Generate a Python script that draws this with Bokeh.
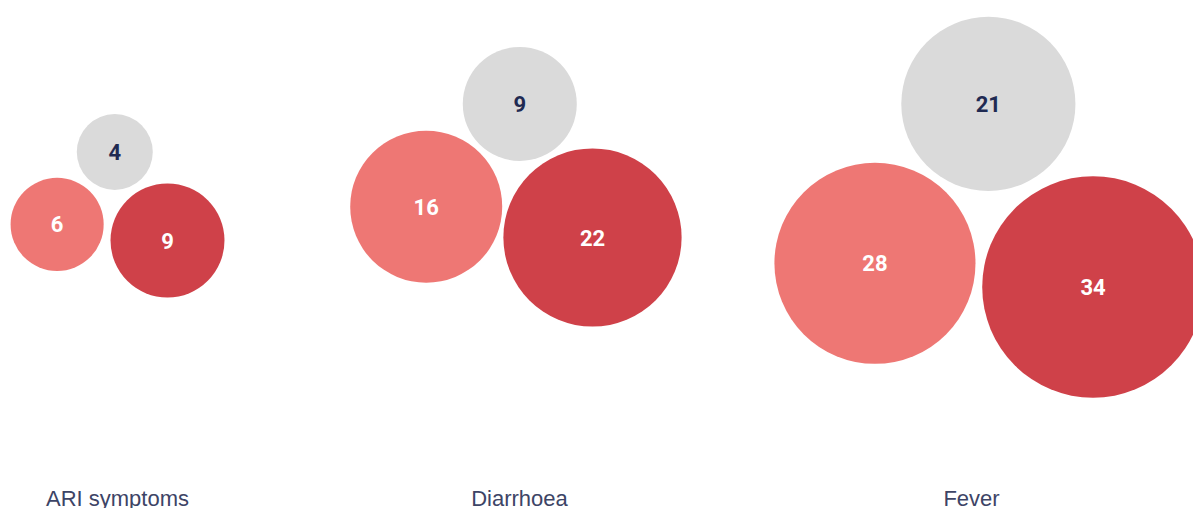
import math
from bokeh.plotting import figure
from bokeh.models import Range1d, ColumnDataSource
from bokeh.core.properties import value
from bokeh.embed import file_html
from bokeh.resources import INLINE

# ---------------- data ----------------
categories = ["ARI symptoms", "Diarrhoea", "Fever"]
gray_values = [4, 9, 21]     # top bubble (gray)
light_values = [6, 16, 28]   # left bubble (light red)
dark_values = [9, 22, 34]    # right bubble (dark red)

# ---------------- layout / style ----------------
W, H = 1193, 508
SIZE_K = 19.0          # radius (px) = SIZE_K * sqrt(value)  (area proportional)
GAP_LD = [8, 4, 8]     # gap light<->dark
GAP_LG = [8, 6, 8]     # gap light<->gray
GAP_DG = [8, 6, 13]    # gap dark<->gray
DARK_ANCHOR = [(167, 240), (592, 237), (1092.5, 286.5)]
TILT_DEG = [8.3, 10.5, 6.2]
LABEL_X = [117, 519, 971]
LABEL_Y = 498

COL_GRAY = "#dadada"
COL_LIGHT = "#ee7774"
COL_DARK = "#cf4149"
NUM_DARK = "#1f2a52"
CAT_COL = "#3d4466"


def rad(v):
    return SIZE_K * math.sqrt(v)


xs, ys, rs, cols, txt, tcol = [], [], [], [], [], []
for i in range(len(categories)):
    rg, rl, rd = rad(gray_values[i]), rad(light_values[i]), rad(dark_values[i])
    dx, dy = DARK_ANCHOR[i]
    t = math.radians(TILT_DEG[i])
    ux, uy = math.cos(t), math.sin(t)
    d = rl + rd + GAP_LD[i]
    lx, ly = dx - d * ux, dy - d * uy
    dL = rl + rg + GAP_LG[i]
    dD = rd + rg + GAP_DG[i]
    a = (dL ** 2 - dD ** 2 + d ** 2) / (2 * d)
    h = math.sqrt(max(dL ** 2 - a ** 2, 0))
    nx, ny = uy, -ux
    gx, gy = lx + a * ux + h * nx, ly + a * uy + h * ny
    for (cx, cy, r, c, v, tc) in [
        (gx, gy, rg, COL_GRAY, gray_values[i], NUM_DARK),
        (lx, ly, rl, COL_LIGHT, light_values[i], "#ffffff"),
        (dx, dy, rd, COL_DARK, dark_values[i], "#ffffff"),
    ]:
        xs.append(cx); ys.append(cy); rs.append(r); cols.append(c)
        txt.append(str(v)); tcol.append(tc)

src = ColumnDataSource(dict(x=xs, y=ys, r=rs, c=cols, t=txt, tc=tcol))

p = figure(width=W, height=H, output_backend="svg", toolbar_location=None,
           x_range=Range1d(0, W), y_range=Range1d(H, 0),
           min_border=0, outline_line_color=None, background_fill_color="white",
           border_fill_color="white")
p.axis.visible = False
p.grid.visible = False

p.circle(x="x", y="y", radius="r", fill_color="c", line_color=None, source=src)
p.text(x="x", y="y", text="t", text_color="tc", text_align="center",
       text_baseline="middle", text_font=value("Roboto"), text_font_style="bold",
       text_font_size="22px", source=src)

lab = ColumnDataSource(dict(x=LABEL_X, y=[LABEL_Y] * 3, t=categories))
p.text(x="x", y="y", text="t", text_color=CAT_COL, text_align="center",
       text_baseline="alphabetic", text_font=value("Liberation Sans"),
       text_font_size="22px", source=lab)

open("out.html", "w").write(file_html(p, INLINE))
